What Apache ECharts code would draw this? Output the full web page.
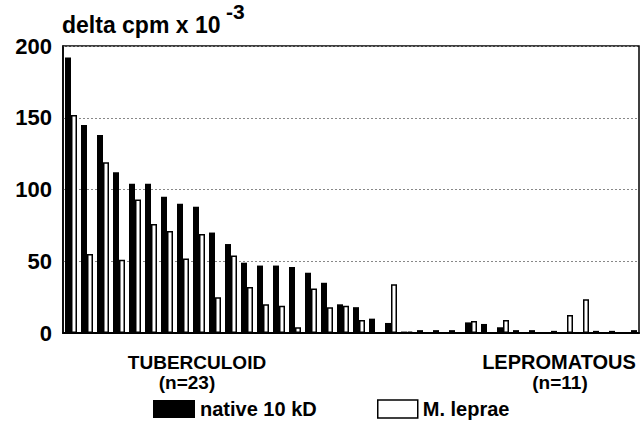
<!DOCTYPE html>
<html>
<head>
<meta charset="utf-8">
<script src="https://cdn.jsdelivr.net/npm/echarts@6/dist/echarts.min.js"></script>
<style>
html,body{margin:0;padding:0;background:#fff;}
#chart{width:641px;height:429px;}
</style>
</head>
<body>
<div id="chart"></div>
<script>
// Patients (slots along the x axis)
const patients = ['1','2','3','4','5','6','7','8','9','10','11','12','13','14','15','16','17','18','19','20','21','22','23','24','25','26','27','28','29','30','31','32','33','34','35','36'];
// delta cpm x 10^-3
const native10kD = [192,145,138,112,104,104,95,90,88,70,62,49,47,47,46,42,35,20,18,10,7,1,2,2,2,7.4,6.3,4,2,2,0.5,0.5,0.5,1.5,1.5,0.5];
const mLeprae    = [152,55,119,51,93,76,71,52,69,25,54,32,20,19,4,31,18,19,9,0.5,34,1,0.5,0.5,0.5,8.4,0.5,9,0.5,0.5,1.5,12.5,23.5,0.5,0.5,2];
const yTicks = [0,50,100,150,200];
const groupLabels = ['TUBERCULOID','(n=23)','LEPROMATOUS','(n=11)'];
const seriesNames = ['native 10 kD','M. leprae'];
const yTitle = 'delta cpm x 10';
const yTitleExp = '-3';

const FONT = '"Liberation Sans", Arial, sans-serif';
const chart = echarts.init(document.getElementById('chart'), null, {renderer:'svg'});
const txt = {fontFamily: FONT, fontWeight: 'bold', color: '#000'};

chart.setOption({
  animation: false,
  backgroundColor: '#fff',
  grid: {left: 63, right: 2, top: 46, bottom: 96, show: true, borderColor: '#000', borderWidth: 1.5, backgroundColor: 'transparent'},
  xAxis: {
    type: 'category', data: patients,
    axisLine: {lineStyle: {color: '#000', width: 2}},
    axisTick: {show: false}, axisLabel: {show: false}, splitLine: {show: false}
  },
  yAxis: {
    type: 'value', min: yTicks[0], max: yTicks[yTicks.length-1], interval: 50,
    axisLine: {show: true, lineStyle: {color: '#000', width: 1.5}},
    axisTick: {show: false},
    axisLabel: {margin: 11, fontSize: 22, fontFamily: FONT, fontWeight: 'bold', color: '#000'},
    splitLine: {show: true, lineStyle: {color: '#888', width: 1, type: [2, 2]}}
  },
  legend: [
    {left: 153, top: 399, padding: 0, itemWidth: 42, itemHeight: 18, itemGap: 0,
     icon: 'rect', selectedMode: false,
     textStyle: Object.assign({fontSize: 20}, txt),
     data: [{name: seriesNames[0], itemStyle: {color: '#000'}}]},
    {left: 377, top: 399, padding: 0, itemWidth: 40, itemHeight: 18, itemGap: 0,
     icon: 'rect', selectedMode: false,
     textStyle: Object.assign({fontSize: 20}, txt),
     data: [{name: seriesNames[1], itemStyle: {color: '#fff', borderColor: '#000', borderWidth: 1.5}}]}
  ],
  graphic: [
    {type: 'text', left: 62, top: 13, style: {text: yTitle, font: 'bold 23px ' + FONT, fill: '#000'}},
    {type: 'text', left: 226, top: 1, style: {text: yTitleExp, font: 'bold 21px ' + FONT, fill: '#000'}},
    {type: 'text', x: 197, y: 362, style: {text: groupLabels[0], font: 'bold 19px ' + FONT, fill: '#000', align: 'center', verticalAlign: 'middle'}},
    {type: 'text', x: 187, y: 382, style: {text: groupLabels[1], font: 'bold 19px ' + FONT, fill: '#000', align: 'center', verticalAlign: 'middle'}},
    {type: 'text', x: 559, y: 362, style: {text: groupLabels[2], font: 'bold 20px ' + FONT, fill: '#000', align: 'center', verticalAlign: 'middle'}},
    {type: 'text', x: 560, y: 382, style: {text: groupLabels[3], font: 'bold 19px ' + FONT, fill: '#000', align: 'center', verticalAlign: 'middle'}}
  ],
  series: [
    {name: seriesNames[0], type: 'bar', data: native10kD, barWidth: 6, barGap: '0%',
     itemStyle: {color: '#000'}},
    {name: seriesNames[1], type: 'bar', data: mLeprae, barWidth: 6, barGap: '0%',
     itemStyle: {color: '#fff', borderColor: '#000', borderWidth: 1.5}}
  ]
});
</script>
</body>
</html>
